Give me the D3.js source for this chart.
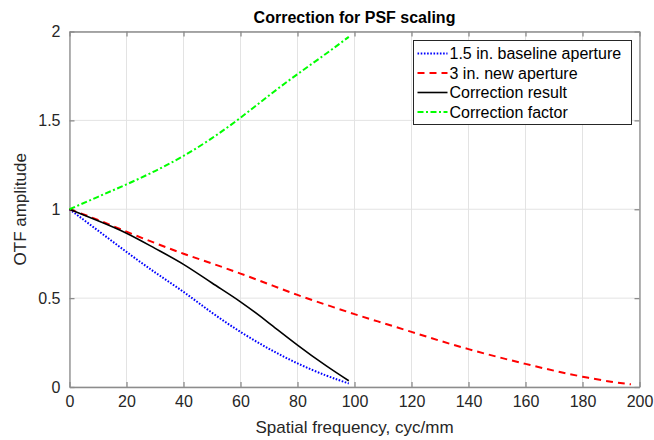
<!DOCTYPE html>
<html>
  <head>
    <title>Correction for PSF scaling</title>
    <script src="https://d3js.org/d3.v7.min.js"></script>
    <style>
      body { margin: 0; background: #fff; }
      text { font-family: "Liberation Sans", Arial, sans-serif; fill: #262626; }
    </style>
  </head>
  <body>
    <svg id="chart" width="654" height="440"></svg>

    <script>
      // values
      var freqBase = [0, 10, 20, 30, 40, 50, 60, 70, 80, 90, 98];
      var baseline = [1, 0.88, 0.76, 0.645, 0.535, 0.418, 0.31, 0.215, 0.133, 0.065, 0.02];
      var result   = [1, 0.935, 0.865, 0.78, 0.69, 0.585, 0.479, 0.36, 0.236, 0.12, 0.035];
      var factor   = [1, 1.07, 1.14, 1.215, 1.30, 1.40, 1.515, 1.64, 1.76, 1.875, 1.97];

      var freqNew = [0, 10, 20, 30, 40, 50, 60, 70, 80, 90, 100, 110, 120, 130, 140, 150, 160, 170, 180, 190, 197];
      var newAp   = [1, 0.94, 0.874, 0.81, 0.75, 0.695, 0.638, 0.578, 0.518, 0.463, 0.41, 0.36, 0.31, 0.26, 0.213, 0.17, 0.13, 0.092, 0.058, 0.03, 0.015];

      var xTicks = [0, 20, 40, 60, 80, 100, 120, 140, 160, 180, 200];
      var yTicks = [0, 0.5, 1, 1.5, 2];

      var series = [
        { name: "1.5 in. baseline aperture", x: freqBase, y: baseline, color: "#0000ff", dash: "1.6,1.6", width: 2 },
        { name: "3 in. new aperture", x: freqNew, y: newAp, color: "#ff0000", dash: "7,5", width: 2 },
        { name: "Correction result", x: freqBase, y: result, color: "#000000", dash: null, width: 1.6 },
        { name: "Correction factor", x: freqBase, y: factor, color: "#00ff00", dash: "6,2.5,2,2.5", width: 2 }
      ];

      var pLeft = 69.5, pRight = 639.5, pTop = 31.5, pBottom = 387;

      var svg = d3.select("#chart");

      var x = d3.scaleLinear().domain([0, 200]).range([pLeft, pRight]);
      var y = d3.scaleLinear().domain([0, 2]).range([pBottom, pTop]);

      // grid
      svg.append("g")
        .selectAll("line")
        .data(xTicks)
        .enter()
        .append("line")
        .attr("x1", d => x(d)).attr("x2", d => x(d))
        .attr("y1", pTop).attr("y2", pBottom)
        .style("stroke", "#e3e3e3").style("stroke-width", 1);

      svg.append("g")
        .selectAll("line")
        .data(yTicks)
        .enter()
        .append("line")
        .attr("x1", pLeft).attr("x2", pRight)
        .attr("y1", d => y(d)).attr("y2", d => y(d))
        .style("stroke", "#e3e3e3").style("stroke-width", 1);

      // axes (matlab style ticks inside, box all round)
      var tickLen = 5;
      svg.append("g")
        .attr("transform", "translate(0," + pBottom + ")")
        .call(d3.axisBottom(x).tickValues(xTicks).tickSizeInner(-tickLen).tickSizeOuter(0).tickPadding(9));
      svg.append("g")
        .attr("transform", "translate(0," + pTop + ")")
        .call(d3.axisTop(x).tickValues(xTicks).tickSizeInner(-tickLen).tickSizeOuter(0).tickFormat(""));
      svg.append("g")
        .attr("transform", "translate(" + pLeft + ",0)")
        .call(d3.axisLeft(y).tickValues(yTicks).tickSizeInner(-tickLen).tickSizeOuter(0).tickPadding(9).tickFormat(d3.format("")));
      svg.append("g")
        .attr("transform", "translate(" + pRight + ",0)")
        .call(d3.axisRight(y).tickValues(yTicks).tickSizeInner(-tickLen).tickSizeOuter(0).tickFormat(""));

      svg.selectAll(".domain").style("stroke", "#8c8c8c").style("stroke-width", 1.3);
      svg.selectAll(".tick line").style("stroke", "#8c8c8c").style("stroke-width", 1.3);
      svg.selectAll(".tick text")
        .style("font-size", "16px")
        .style("font-family", "'Liberation Sans', Arial, sans-serif")
        .style("fill", "#262626");

      // lines
      var lineGen = d3.line()
        .x(d => x(d[0]))
        .y(d => y(d[1]))
        .curve(d3.curveNatural);

      svg.append("g")
        .selectAll("path")
        .data(series)
        .enter()
        .append("path")
        .attr("d", s => lineGen(d3.zip(s.x, s.y)))
        .style("fill", "none")
        .style("stroke", s => s.color)
        .style("stroke-width", s => s.width)
        .style("stroke-dasharray", s => s.dash);

      // title and labels
      svg.append("text")
        .attr("x", (pLeft + pRight) / 2).attr("y", 23)
        .attr("text-anchor", "middle")
        .style("font-size", "16px").style("font-weight", "bold")
        .style("fill", "#000")
        .text("Correction for PSF scaling");

      svg.append("text")
        .attr("x", (pLeft + pRight) / 2).attr("y", 433)
        .attr("text-anchor", "middle")
        .style("font-size", "17px")
        .text("Spatial frequency, cyc/mm");

      svg.append("text")
        .attr("transform", "translate(26," + ((pTop + pBottom) / 2) + ") rotate(-90)")
        .attr("text-anchor", "middle")
        .style("font-size", "17px")
        .text("OTF amplitude");

      // legend
      var legend = svg.append("g").attr("transform", "translate(413.5,40.5)");
      legend.append("rect")
        .attr("width", 218).attr("height", 84)
        .style("fill", "#fff").style("stroke", "#262626").style("stroke-width", 1);

      var rows = legend.selectAll("g")
        .data(series)
        .enter()
        .append("g")
        .attr("transform", (d, i) => "translate(0," + (13 + i * 19.5) + ")");

      rows.append("line")
        .attr("x1", 4).attr("x2", 34)
        .style("stroke", d => d.color)
        .style("stroke-width", d => d.width)
        .style("stroke-dasharray", d => d.dash);

      rows.append("text")
        .attr("x", 36).attr("y", 5.5)
        .style("font-size", "16px")
        .style("fill", "#000")
        .text(d => d.name);
    </script>
  </body>
</html>
